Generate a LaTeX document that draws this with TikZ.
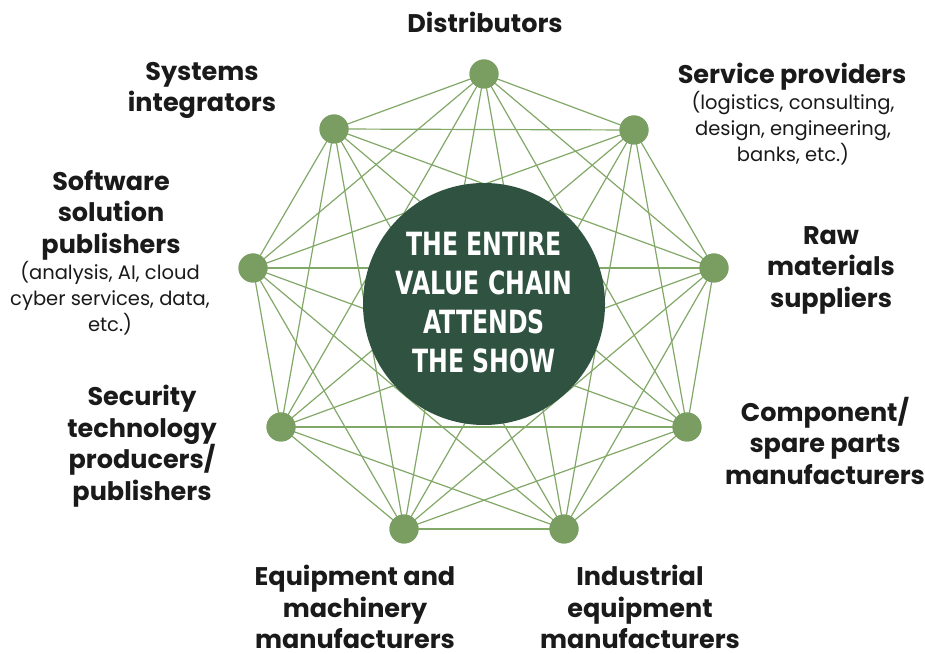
\documentclass[tikz,border=0pt]{standalone}
\usepackage{fontspec}
\setmainfont{Poppins}
\newfontfamily\centerfont{DejaVu Sans Condensed}
\definecolor{dotgreen}{HTML}{7A9E62}
\definecolor{linegreen}{HTML}{82A868}
\definecolor{darkgreen}{HTML}{2F5241}
\definecolor{txt}{HTML}{1A1A1A}
\tikzset{
  dot/.style={circle, fill=dotgreen, minimum size=29pt, inner sep=0pt},
  edge/.style={draw=linegreen, line width=1.2pt},
  lab/.style={font=\bfseries\fontsize{25.5}{31.5}\selectfont, text=txt, align=center, inner sep=0pt, anchor=north},
  sublab/.style={font=\fontsize{19.5}{26}\selectfont, text=txt, align=center, inner sep=0pt, anchor=north},
}
\begin{document}
\begin{tikzpicture}[x=1pt,y=1pt]
\useasboundingbox (0,0) rectangle (925,653);
\fill[white] (0,0) rectangle (925,653);
% dots
\node[dot] (d1) at (484,579) {};
\node[dot] (d2) at (634,523) {};
\node[dot] (d3) at (714,385) {};
\node[dot] (d4) at (687,226) {};
\node[dot] (d5) at (564,124) {};
\node[dot] (d6) at (404,124) {};
\node[dot] (d7) at (281,226) {};
\node[dot] (d8) at (253,385) {};
\node[dot] (d9) at (334,524) {};
% complete graph
\foreach \i in {1,...,9}{
  \foreach \j in {1,...,9}{
    \ifnum\i<\j
      \draw[edge] (d\i.center) -- (d\j.center);
    \fi
  }
}
% dots on top of the lines
\foreach \i in {1,...,9}{
  \fill[dotgreen] (d\i) circle (14.5pt);
}
% centre
\node[circle, fill=darkgreen, minimum size=242pt, inner sep=0pt] (hub) at (484,349) {};
\node[text=white, inner sep=0pt, font=\centerfont\bfseries\fontsize{32}{39}\selectfont] (hubtext) at (484,347)
  {\scalebox{0.82}[1]{\begin{tabular}{@{}c@{}}THE ENTIRE\\VALUE CHAIN\\ATTENDS\\THE SHOW\end{tabular}}};
% labels
\node[lab] (l1) at (485,641) {Distributors};
\node[lab] (l2) at (792,590) {Service providers};
\node[sublab] (s2) at (793,562) {(logistics, consulting,\\design, engineering,\\banks, etc.)};
\node[lab] (l3) at (831,427) {Raw\\materials\\suppliers};
\node[lab] (l4) at (825,256) {Component/\\spare parts\\manufacturers};
\node[lab, text depth=0pt] (l5) at (640,88) {Industrial\\equipment\\manufacturers};
\node[lab, text depth=0pt] (l6) at (355,88) {Equipment and\\machinery\\manufacturers};
\node[lab] (l7) at (142,268) {Security\\technology\\producers/\\publishers};
\node[lab] (l8) at (111,483) {Software\\solution\\publishers};
\node[sublab] (s8) at (110,392) {(analysis, AI, cloud\\cyber services, data,\\etc.)};
\node[lab] (l9) at (202,591) {Systems\\integrators};
\end{tikzpicture}
\end{document}
